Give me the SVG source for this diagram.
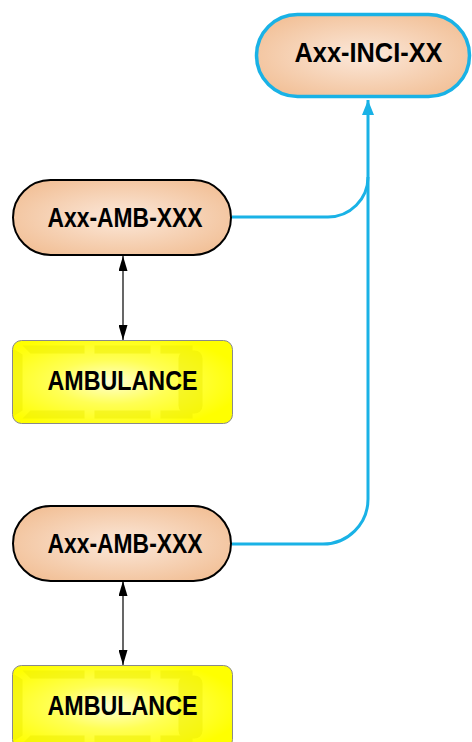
<svg xmlns="http://www.w3.org/2000/svg" width="472" height="742" viewBox="0 0 472 742">
<defs>
  <radialGradient id="peach" cx="50%" cy="50%" r="60%">
    <stop offset="0" stop-color="#fbe8da"/>
    <stop offset="1" stop-color="#f2c097"/>
  </radialGradient>
  <radialGradient id="yellow" cx="45%" cy="50%" r="60%">
    <stop offset="0" stop-color="#ffffd0"/>
    <stop offset="0.45" stop-color="#ffff55"/>
    <stop offset="1" stop-color="#ffff00"/>
  </radialGradient>
  <marker id="blk" markerUnits="userSpaceOnUse" markerWidth="15" markerHeight="9" refX="15" refY="4.5" orient="auto-start-reverse">
    <path d="M0,0 L15,4.5 L0,9 z" fill="#000"/>
  </marker>
  <marker id="blu" markerUnits="userSpaceOnUse" markerWidth="15" markerHeight="12" refX="15" refY="6" orient="auto">
    <path d="M0,0 L15,6 L0,12 z" fill="#19b2e6"/>
  </marker>
  <g id="amb-deco" fill="#ecec00" opacity="0.45">
    <path d="M0.5,8 L10,14 L10,70 L0.5,76 Z"/>
    <path d="M10,5 L72,5 L72,13 L18,13 Z"/>
    <path d="M82,5 L138,5 L138,13 L82,13 Z"/>
    <path d="M148,5 L180,5 L180,13 L148,13 Z"/>
    <path d="M10,78 L72,78 L72,70 L18,70 Z"/>
    <path d="M82,78 L138,78 L138,70 L82,70 Z"/>
    <path d="M148,78 L180,78 L180,70 L148,70 Z"/>
    <rect x="166" y="10" width="24" height="63" rx="8"/>
  </g>
</defs>
<style>
  .pill { fill: url(#peach); stroke: #000; stroke-width: 2; }
  .pill-main { fill: url(#peach); stroke: #19b2e6; stroke-width: 3.5; }
  .amb { fill: url(#yellow); stroke: #8a8a8a; stroke-width: 1; }
  .lbl { font-family: "Liberation Sans", Arial, sans-serif; font-weight: bold; font-size: 28px; fill: #000; text-anchor: middle; }
  .blue { fill: none; stroke: #19b2e6; stroke-width: 3; }
  .bi { stroke: #000; stroke-width: 1.2; fill: none; }
</style>

<g id="connectors">
  <path class="blue" d="M232,544 H323 A45,45 0 0 0 368,499 V100" marker-end="url(#blu)"/>
  <path class="blue" d="M232,217 H328 A40,40 0 0 0 368,177"/>
  <line class="bi" x1="123" y1="256" x2="123" y2="340" marker-start="url(#blk)" marker-end="url(#blk)"/>
  <line class="bi" x1="123" y1="581" x2="123" y2="665" marker-start="url(#blk)" marker-end="url(#blk)"/>
</g>

<g id="node-inci">
  <rect class="pill-main" x="256.5" y="14.5" width="213" height="82" rx="41"/>
  <text class="lbl" x="368.5" y="62" textLength="148" lengthAdjust="spacingAndGlyphs">Axx-INCI-XX</text>
</g>

<g id="node-amb1">
  <rect class="pill" x="13" y="180" width="218" height="75" rx="37.5"/>
  <text class="lbl" x="125" y="227" textLength="155" lengthAdjust="spacingAndGlyphs">Axx-AMB-XXX</text>
</g>

<g id="vehicle1">
  <rect class="amb" x="12.5" y="340.5" width="220" height="83" rx="9"/>
  <use href="#amb-deco" x="12.5" y="340.5"/>
  <text class="lbl" x="122.5" y="390" textLength="150" lengthAdjust="spacingAndGlyphs">AMBULANCE</text>
</g>

<g id="node-amb2">
  <rect class="pill" x="13" y="506" width="218" height="75" rx="37.5"/>
  <text class="lbl" x="125" y="553" textLength="155" lengthAdjust="spacingAndGlyphs">Axx-AMB-XXX</text>
</g>

<g id="vehicle2">
  <rect class="amb" x="12.5" y="665.5" width="220" height="83" rx="9"/>
  <use href="#amb-deco" x="12.5" y="665.5"/>
  <text class="lbl" x="122.5" y="715" textLength="150" lengthAdjust="spacingAndGlyphs">AMBULANCE</text>
</g>
</svg>
